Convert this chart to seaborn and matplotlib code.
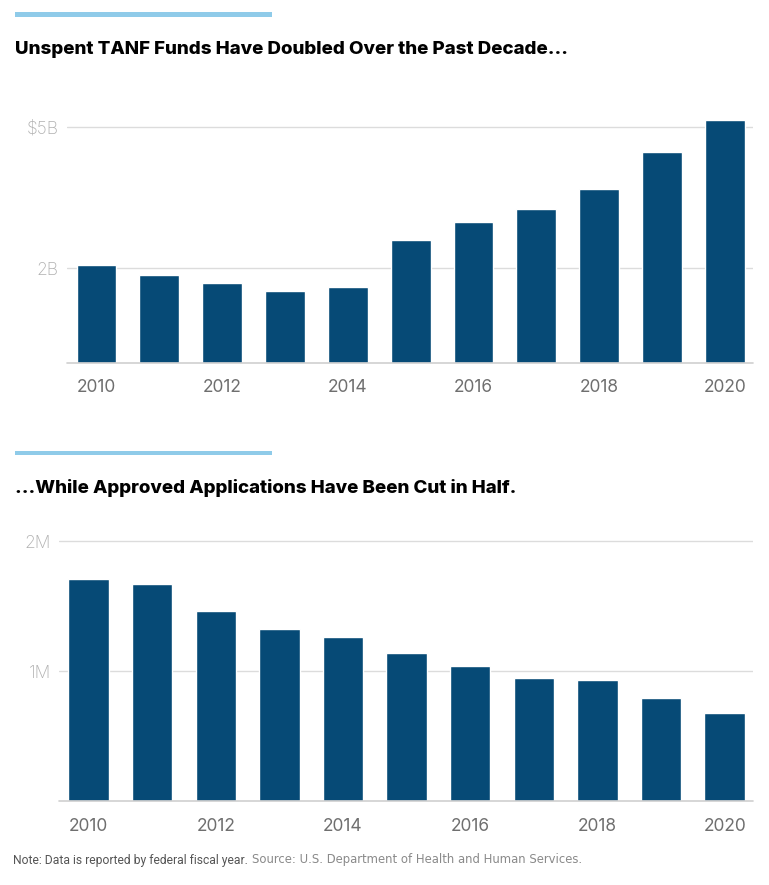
"""Unspent TANF funds vs. approved applications, 2010-2020 (two stacked bar panels)."""
import matplotlib
matplotlib.use("Agg")
import numpy as np
import pandas as pd
import matplotlib.pyplot as plt
import seaborn as sns
from matplotlib.patches import Rectangle

# ---- datos ----
years = list(range(2010, 2021))
unspent_b = [2.07, 1.85, 1.68, 1.52, 1.61, 2.61, 2.99, 3.26, 3.68, 4.47, 5.15]
approved_m = [1.71, 1.67, 1.46, 1.32, 1.26, 1.14, 1.04, 0.95, 0.93, 0.79, 0.675]

top_ticks = [2, 5]
top_labels = ["2B", "$5B"]
bot_ticks = [1, 2]
bot_labels = ["1M", "2M"]
xtick_years = [2010, 2012, 2014, 2016, 2018, 2020]

title_top = "Unspent TANF Funds Have Doubled Over the Past Decade..."
title_bot = "...While Approved Applications Have Been Cut in Half."
note = "Note: Data is reported by federal fiscal year."
source = "Source: U.S. Department of Health and Human Services."

BAR = "#064a76"
STRIPE = "#8fcbe9"
GRID = "#dcdcdc"

sns.set_style("white")
plt.rcParams["font.family"] = ["Inter", "DejaVu Sans"]

W, H = 769, 885
fig = plt.figure(figsize=(W / 100, H / 100), dpi=100)


def px_axes(left, right, top, bottom):
    # pixel box (desde arriba-izquierda) -> fraccion de figura
    return fig.add_axes([left / W, (H - bottom) / H, (right - left) / W, (bottom - top) / H])


def panel(ax, values, ticks, labels, ymax, xlim):
    df = pd.DataFrame({"year": years, "value": values})
    sns.barplot(data=df, x="year", y="value", color=BAR, width=0.635,
                saturation=1, ax=ax, zorder=3)
    ax.set_ylim(0, ymax)
    ax.set_xlim(*xlim)
    ax.set_yticks(ticks)
    ax.set_yticklabels(labels)
    pos = [years.index(y) for y in xtick_years]
    ax.set_xticks(pos)
    ax.set_xticklabels([str(y) for y in xtick_years])
    for t in ticks:
        ax.axhline(t, color=GRID, lw=1, zorder=1)
    ax.axhline(0, color="#cfcfcf", lw=1.2, zorder=4, clip_on=False)
    sns.despine(ax=ax, left=True, bottom=True)
    ax.set_xlabel("")
    ax.set_ylabel("")
    ax.tick_params(axis="x", length=4, width=1, color="#cfcfcf", pad=8,
                   labelsize=12.5, labelcolor="#6f6f6f")
    ax.tick_params(axis="y", length=0, pad=6, labelsize=12.5, labelcolor="#b0b0b0")
    for lab in ax.get_yticklabels():
        lab.set_fontweight("light")


ax1 = px_axes(67, 753, 362.7 - 5.3 * 47.2, 362.7)
panel(ax1, unspent_b, top_ticks, top_labels, 5.3, (-0.47, 10.45))

ax2 = px_axes(59.3, 753, 801 - 2.05 * 130, 801)
panel(ax2, approved_m, bot_ticks, bot_labels, 2.05, (-0.46, 10.445))

# franjas azules y titulos
for y0 in (12.3, 450.7):
    fig.add_artist(Rectangle((15 / W, (H - y0 - 4.4) / H), 257 / W, 4.4 / H,
                             transform=fig.transFigure, color=STRIPE, lw=0))

fig.text(15 / W, (H - 50) / H, title_top, fontsize=13.5, fontweight="heavy",
         color="#000000", va="center", ha="left")
fig.text(15 / W, (H - 488) / H, title_bot, fontsize=13.5, fontweight="heavy",
         color="#000000", va="center", ha="left")

# nota y fuente
t_note = fig.text(13 / W, (H - 867) / H, note, fontsize=8.7, color="#555555",
                  family=["Roboto", "DejaVu Sans"], va="bottom", ha="left")
ax2.annotate(source, xy=(1, 0), xytext=(3, 0.5), xycoords=t_note,
             textcoords="offset points", fontsize=8.4, color="#8a8a8a",
             family=["DejaVu Sans"], va="bottom", ha="left", annotation_clip=False)

plt.savefig("out.png", dpi=100)
plt.close()
